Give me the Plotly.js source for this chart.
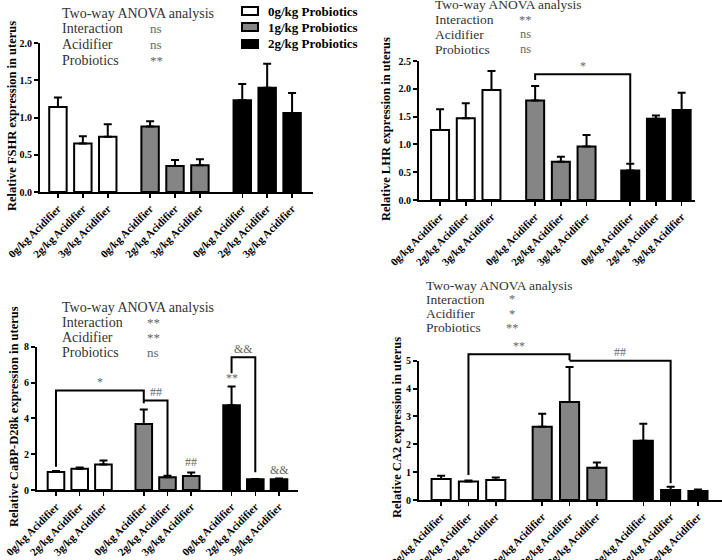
<!DOCTYPE html>
<html>
<head>
<meta charset="utf-8">
<script src="https://cdn.plot.ly/plotly-3.0.1.min.js"></script>
<style>
html,body{margin:0;padding:0;background:#fff;}
#chart{width:722px;height:560px;}
</style>
</head>
<body>
<div id="chart"></div>
<script>
// ---------------- data ----------------
var probioticGroups = ['0g/kg Probiotics', '1g/kg Probiotics', '2g/kg Probiotics'];
var acidifierLevels = ['0g/kg Acidifier', '2g/kg Acidifier', '3g/kg Acidifier'];
var anovaTerms = ['Interaction', 'Acidifier', 'Probiotics'];

// order: 0g Probiotics (0,2,3 g/kg Acidifier), 1g Probiotics (...), 2g Probiotics (...)
var fshrMean = [1.14, 0.65, 0.74, 0.88, 0.35, 0.36, 1.23, 1.40, 1.06];
var fshrSem  = [0.13, 0.10, 0.17, 0.07, 0.08, 0.08, 0.22, 0.32, 0.27];
var fshrAnova = ['ns', 'ns', '**'];

var lhrMean = [1.26, 1.47, 1.98, 1.79, 0.69, 0.96, 0.53, 1.46, 1.62];
var lhrSem  = [0.37, 0.27, 0.34, 0.26, 0.09, 0.21, 0.12, 0.06, 0.31];
var lhrAnova = ['**', 'ns', 'ns'];

var cabpMean = [1.00, 1.19, 1.43, 3.68, 0.71, 0.78, 4.73, 0.60, 0.60];
var cabpSem  = [0.06, 0.06, 0.22, 0.82, 0.09, 0.19, 1.05, 0.02, 0.04];
var cabpAnova = ['**', '**', 'ns'];

var ca2Mean = [0.75, 0.66, 0.72, 2.63, 3.52, 1.16, 2.13, 0.36, 0.32];
var ca2Sem  = [0.12, 0.04, 0.09, 0.47, 1.25, 0.19, 0.61, 0.12, 0.06];
var ca2Anova = ['*', '*', '**'];

// significance brackets: [fromBar, toBar, topValue, leftEndValue, rightEndValue, label, labelValue]
var lhrBrackets  = [[3, 6, 2.26, 2.16, 0.67, '*', 2.41]];
var cabpBrackets = [[0, 3, 5.55, 1.30, 4.85, '*', 6.05],
                    [3, 4, 5.00, 5.00, 0.84, '##', 5.49],
                    [6, 7, 7.41, 6.52, 0.99, '&&', 7.88]];
var ca2Brackets  = [[1, 4, 5.23, 0.90, 5.02, '**', 5.53],
                    [4, 7, 5.00, 5.00, 0.60, '##', 5.30]];
// single marks: [bar, label, value]
var cabpMarks = [[5, '##', 1.55], [6, '**', 6.24], [8, '&&', 1.12]];

// ---------------- styling / layout ----------------
var W = 722, H = 560;
var SERIF = 'Liberation Serif, Times New Roman, serif';
var groupColors = ['#ffffff', '#858585', '#000000'];
var groupGap = 0.7;
var barWidth = 0.7;

var panels = [
  {title: 'Relative FSHR expression in uterus', mean: fshrMean, sem: fshrSem, anova: fshrAnova,
   brackets: [], marks: [], xd: [40, 313], yd: [43, 192], xr: [-0.72, 10.24], yr: [0, 2], dtick: 0.5, fmt: '.1f',
   tx: 12, ty: 116,
   txt: {x: 60, vx: 156, y0: 13, dy: 15.7, size: 14}},
  {title: 'Relative LHR expression in uterus', mean: lhrMean, sem: lhrSem, anova: lhrAnova,
   brackets: lhrBrackets, marks: [], xd: [419, 695], yd: [61, 200], xr: [-0.82, 9.92], yr: [0, 2.5], dtick: 0.5, fmt: '.1f',
   tx: 386, ty: 129,
   txt: {x: 433, vx: 525, y0: 5, dy: 14.7, size: 13.5}},
  {title: 'Relative CaBP-D28k expression in uterus', mean: cabpMean, sem: cabpSem, anova: cabpAnova,
   brackets: cabpBrackets, marks: cabpMarks, xd: [37, 298], yd: [346.7, 490], xr: [-0.80, 10.2], yr: [0, 8], dtick: 2, fmt: 'd',
   tx: 14, ty: 417,
   txt: {x: 60, vx: 153, y0: 307, dy: 15, size: 14}},
  {title: 'Relative CA2 expression in uterus', mean: ca2Mean, sem: ca2Sem, anova: ca2Anova,
   brackets: ca2Brackets, marks: [], xd: [419, 722], yd: [360.7, 500], xr: [-0.81, 10.28], yr: [0, 5], dtick: 1, fmt: 'd',
   tx: 397, ty: 428,
   txt: {x: 424, vx: 512, y0: 285, dy: 14.3, size: 13.5}}
];

function barPos(idx) { return Math.floor(idx / 3) * (3 + groupGap) + (idx % 3); }

var data = [];
var annotations = [];
var shapes = [];
var layout = {
  width: W, height: H,
  margin: {l: 0, r: 0, t: 0, b: 0},
  paper_bgcolor: '#fff', plot_bgcolor: 'rgba(0,0,0,0)',
  showlegend: false,
  bargap: 0
};
var ext = 1.25;

panels.forEach(function (p, k) {
  var s = k === 0 ? '' : String(k + 1);
  var os = String(k + 5);
  var tickvals = [], ticktext = [];
  for (var b = 0; b < 9; b++) { tickvals.push(barPos(b)); ticktext.push(acidifierLevels[b % 3]); }

  for (var g = 0; g < 3; g++) {
    var xs = [], ys = [], es = [], zs = [];
    for (var i = 0; i < 3; i++) {
      xs.push(barPos(g * 3 + i)); ys.push(p.mean[g * 3 + i]); es.push(p.sem[g * 3 + i]); zs.push(0);
    }
    data.push({
      type: 'bar', x: xs, y: ys, xaxis: 'x' + s, yaxis: 'y' + s, width: barWidth,
      name: probioticGroups[g],
      marker: {color: groupColors[g], line: {color: '#000', width: 2}},
      error_y: {type: 'data', array: es, arrayminus: zs, symmetric: false, color: '#000', thickness: 2, width: 4},
      hoverinfo: 'skip'
    });
  }

  var xd = [p.xd[0] / W, p.xd[1] / W];
  var yd = [1 - p.yd[1] / H, 1 - p.yd[0] / H];
  layout['xaxis' + s] = {
    domain: xd, range: p.xr, anchor: 'y' + s, tickmode: 'array', tickvals: tickvals, ticktext: ticktext,
    tickangle: -45, ticks: 'outside', ticklen: 4, tickwidth: 1.5, tickcolor: '#000',
    showline: true, linewidth: 2, linecolor: '#000', showgrid: false, zeroline: false, fixedrange: true,
    tickfont: {family: SERIF, size: 11, weight: 'bold', color: '#000'}
  };
  layout['yaxis' + s] = {
    domain: yd, range: p.yr, anchor: 'x' + s, tick0: 0, dtick: p.dtick, tickformat: p.fmt,
    ticks: 'outside', ticklen: 4, tickwidth: 2, tickcolor: '#000',
    showline: true, linewidth: 2, linecolor: '#000', showgrid: false, zeroline: false, fixedrange: true,
    tickfont: {family: SERIF, size: 10, weight: 'bold', color: '#000'}
  };
  // y-axis title
  annotations.push({xref: 'paper', yref: 'paper', x: p.tx / W, y: 1 - p.ty / H, xanchor: 'center', yanchor: 'middle',
                    textangle: -90, text: p.title, showarrow: false,
                    font: {family: SERIF, size: 12.5, weight: 'bold', color: '#000'}});

  // overlay axes with identical scale, taller, for significance brackets
  if (p.brackets.length || p.marks.length) {
    layout['xaxis' + os] = {domain: xd, range: p.xr, anchor: 'y' + os, visible: false, fixedrange: true};
    layout['yaxis' + os] = {domain: [yd[0], yd[0] + ext * (yd[1] - yd[0])], range: [0, p.yr[1] * ext],
                            anchor: 'x' + os, visible: false, fixedrange: true};
    p.brackets.forEach(function (br) {
      var xl = barPos(br[0]), xr = barPos(br[1]);
      data.push({type: 'scatter', mode: 'lines', x: [xl, xl, xr, xr], y: [br[3], br[2], br[2], br[4]],
                 xaxis: 'x' + os, yaxis: 'y' + os, line: {color: '#000', width: 2}, showlegend: false,
                 hoverinfo: 'skip', cliponaxis: false});
      annotations.push({xref: 'x' + os, yref: 'y' + os, x: (xl + xr) / 2, y: br[6], text: br[5], showarrow: false,
                        font: {family: SERIF, size: 12, color: '#666'}});
    });
    p.marks.forEach(function (m) {
      annotations.push({xref: 'x' + os, yref: 'y' + os, x: barPos(m[0]), y: m[2], text: m[1], showarrow: false,
                        font: {family: SERIF, size: 12, color: '#666'}});
    });
  }

  // two-way ANOVA text block
  var t = p.txt;
  annotations.push({xref: 'paper', yref: 'paper', x: t.x / W, y: 1 - t.y0 / H, xanchor: 'left', yanchor: 'middle',
                    text: 'Two-way ANOVA analysis', showarrow: false, font: {family: SERIF, size: t.size, color: '#333'}});
  for (var r = 0; r < 3; r++) {
    var yy = 1 - (t.y0 + (r + 1) * t.dy) / H;
    annotations.push({xref: 'paper', yref: 'paper', x: t.x / W, y: yy, xanchor: 'left', yanchor: 'middle',
                      text: anovaTerms[r], showarrow: false, font: {family: SERIF, size: t.size, color: '#333'}});
    annotations.push({xref: 'paper', yref: 'paper', x: t.vx / W, y: yy, xanchor: 'center', yanchor: 'middle',
                      text: p.anova[r], showarrow: false, font: {family: SERIF, size: t.size - 1, color: '#666'}});
  }
});

// legend key (top of first panel)
var legendY = [11, 27, 44];
probioticGroups.forEach(function (name, g) {
  shapes.push({type: 'rect', xref: 'paper', yref: 'paper', x0: 242 / W, x1: 258 / W,
               y0: 1 - (legendY[g] + 4) / H, y1: 1 - (legendY[g] - 4) / H,
               fillcolor: groupColors[g], line: {color: '#000', width: 2}});
  annotations.push({xref: 'paper', yref: 'paper', x: 266 / W, y: 1 - legendY[g] / H, xanchor: 'left', yanchor: 'middle',
                    text: name, showarrow: false, font: {family: SERIF, size: 13, weight: 'bold', color: '#000'}});
});

layout.annotations = annotations;
layout.shapes = shapes;

Plotly.newPlot('chart', data, layout, {displayModeBar: false, staticPlot: true});
</script>
</body>
</html>
